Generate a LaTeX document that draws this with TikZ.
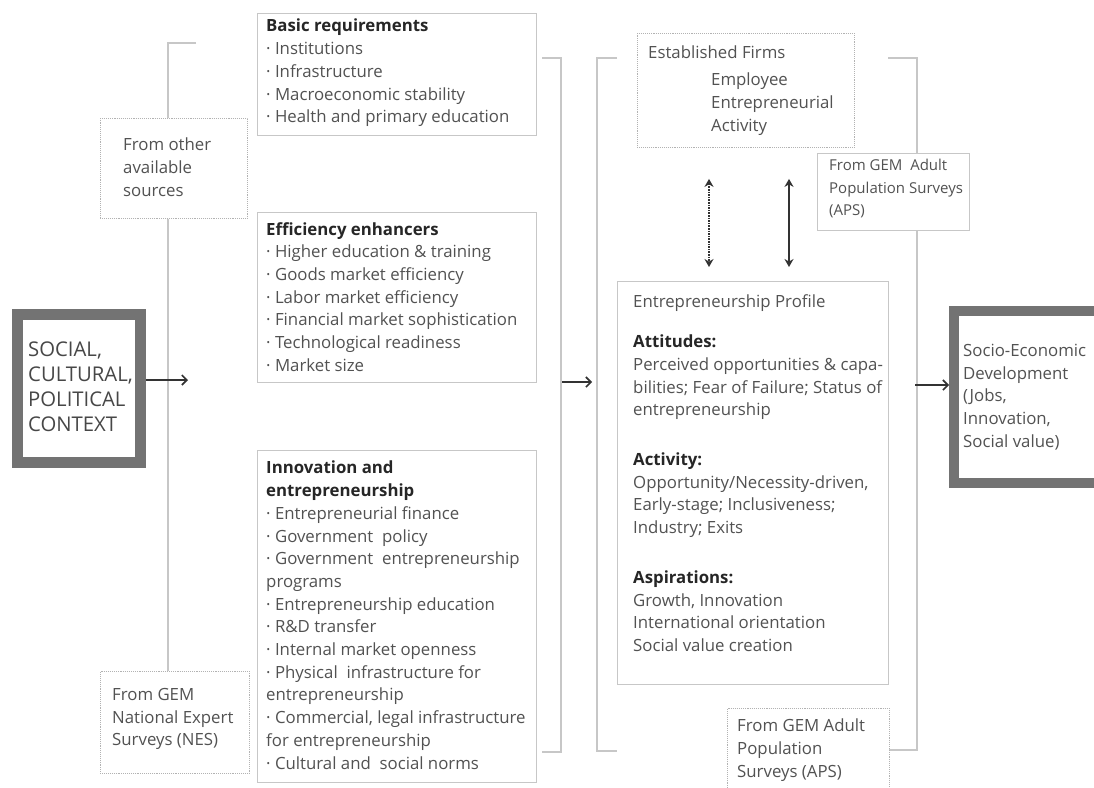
\documentclass[tikz,border=0pt]{standalone}
\usepackage{fontspec}
\setmainfont{Open Sans}
\usetikzlibrary{arrows.meta}
\tikzset{
  frame/.style={draw=black!22, line width=0.9pt, fill=white, inner sep=0pt, anchor=north west},
  dotframe/.style={draw=black!30, densely dotted, line width=0.9pt, fill=white, inner sep=0pt, anchor=north west},
  heavyframe/.style={draw=black!55, line width=11pt, fill=white, inner sep=0pt, anchor=north west},
  bracket/.style={draw=black!22, line width=1.6pt},
  body/.style={anchor=north west, align=left, inner sep=0pt, text=black!68, font=\fontsize{16.8}{22.7}\selectfont},
  flow/.style={-{Straight Barb[length=5pt,width=10pt]}, line width=1.6pt, draw=black!80},
  biarrow/.style={{Stealth[length=8pt,width=9pt]}-{Stealth[length=8pt,width=9pt]}, line width=1.6pt, draw=black!80},
}
\newcommand{\hd}[1]{{\color{black!85}\bfseries #1}}
\begin{document}
\begin{tikzpicture}[x=1pt, y=-1pt]
    \useasboundingbox[fill=white] (0,0) rectangle (1094,787);

    % Brackets
    \coordinate (lbr) at (168,43);
    \draw[bracket] (542,58) -- (561,58) -- (561,752) -- (542,752);
    \draw[bracket] (617,58) -- (597,58) -- (597,751) -- (617,751);
    \draw[bracket] (888,58) -- (917,58) -- (917,750) -- (888,750);

    % Left column
    \node[heavyframe, minimum width=123pt, minimum height=148pt] (social) at (12,309) {};
    \node[body, text=black!72, font=\fontsize{20.3}{25}\selectfont] (socialtxt) at (28,342)
        {SOCIAL,\\ CULTURAL,\\ POLITICAL\\ CONTEXT};
    \node[dotframe, minimum width=147pt, minimum height=100pt] (other) at (100,118) {};
    \node[body] (othertxt) at (123,138) {From other\\ available\\ sources};
    \node[dotframe, minimum width=149pt, minimum height=102pt] (nes) at (100,671) {};
    \node[body] (nestxt) at (112,688) {From GEM\\ National Expert\\ Surveys (NES)};
    \draw[bracket] (196,43) -- (lbr) -- (lbr |- other.north);
    \draw[bracket] (lbr |- other.south) -- (lbr |- nes.north);

    % Middle column
    \node[frame, minimum width=279pt, minimum height=122pt] (basic) at (257,13) {};
    \node[body] (basictxt) at (266,19)
        {\hd{Basic requirements}\\ · Institutions\\ · Infrastructure\\
         · Macroeconomic stability\\ · Health and primary education};
    \node[frame, minimum width=279pt, minimum height=170pt] (effic) at (257,212) {};
    \node[body] (effictxt) at (266,222)
        {\hd{Efficiency enhancers}\\ · Higher education \& training\\
         · Goods market efficiency\\ · Labor market efficiency\\
         · Financial market sophistication\\ · Technological readiness\\ · Market size};
    \node[frame, minimum width=279pt, minimum height=332pt] (innov) at (257,450) {};
    \node[body] (innovtxt) at (266,461)
        {\hd{Innovation and}\\ \hd{entrepreneurship}\\ · Entrepreneurial finance\\
         · Government\ \ policy\\ · Government\ \ entrepreneurship\\ programs\\
         · Entrepreneurship education\\ · R\&D transfer\\ · Internal market openness\\
         · Physical\ \ infrastructure for\\ entrepreneurship\\
         · Commercial, legal infrastructure\\ for entrepreneurship\\ · Cultural and\ \ social norms};

    % Right column
    \node[dotframe, minimum width=217pt, minimum height=114pt] (firms) at (637,33) {};
    \node[body] (firmstxt) at (648,46) {Established Firms};
    \node[body] (eeatxt) at (711,73) {Employee\\ Entrepreneurial\\ Activity};
    \node[frame, minimum width=152pt, minimum height=77pt] (apstop) at (817,153) {};
    \node[body, font=\fontsize{15}{22.7}\selectfont] (apstoptxt) at (829,159)
        {From GEM\ \ Adult\\ Population Surveys\\ (APS)};
    \node[frame, minimum width=271pt, minimum height=403pt] (profile) at (617,281) {};
    \node[body] (profiletxt) at (633,294)
        {Entrepreneurship Profile\\[18pt]
         \hd{Attitudes:}\\ Perceived opportunities \& capa-\\
         bilities; Fear of Failure; Status of\\ entrepreneurship\\[27pt]
         \hd{Activity:}\\ Opportunity/Necessity-driven,\\
         Early-stage; Inclusiveness;\\ Industry; Exits\\[27pt]
         \hd{Aspirations:}\\ Growth, Innovation\\ International orientation\\ Social value creation};
    \node[dotframe, minimum width=162pt, minimum height=95pt] (apsbot) at (727,708) {};
    \node[body] (apsbottxt) at (737,719) {From GEM Adult\\ Population\\ Surveys (APS)};
    \node[heavyframe, line width=10pt, minimum width=160pt, minimum height=172pt] (socio) at (949,306) {};
    \node[body] (sociotxt) at (963,344)
        {Socio-Economic\\ Development\\ (Jobs,\\ Innovation,\\ Social value)};

    % Arrows
    \coordinate (ax1) at (709,0);
    \coordinate (ax2) at (789,0);
    \coordinate (inL) at (188,380);
    \coordinate (midA) at (562,382);
    \coordinate (midB) at (592,382);
    \coordinate (outA) at (915,385);
    \draw[flow] (social.east |- inL) -- (inL);
    \draw[flow] (midA) -- (midB);
    \draw[flow] (outA) -- (socio.west |- outA);
    \draw[biarrow, densely dotted, shorten <=31pt, shorten >=14pt] (firms.south -| ax1) -- (profile.north -| ax1);
    \draw[biarrow, shorten <=31pt, shorten >=14pt] (firms.south -| ax2) -- (profile.north -| ax2);
\end{tikzpicture}
\end{document}
